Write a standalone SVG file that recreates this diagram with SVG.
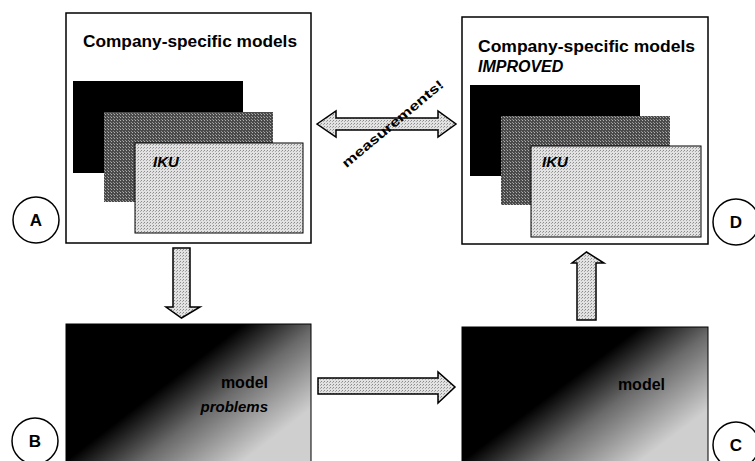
<svg xmlns="http://www.w3.org/2000/svg" width="755" height="461" viewBox="0 0 755 461">
<style>
.box{fill:#fff;stroke:#000;stroke-width:1.5}
.title{font-family:"Liberation Sans",Arial,sans-serif;font-weight:bold;font-size:16px;fill:#000}
.ital{font-family:"Liberation Sans",Arial,sans-serif;font-weight:bold;font-style:italic;fill:#000}
.meas{font-family:"Liberation Sans",Arial,sans-serif;font-weight:bold;font-size:13px;fill:#000;text-anchor:middle}
.lbl{font-family:"Liberation Sans",Arial,sans-serif;font-weight:bold;font-size:17px;fill:#000;text-anchor:middle}
.circ{fill:#fff;stroke:#000;stroke-width:1.5}
.arrow{fill:url(#dotLight);stroke:#000;stroke-width:1.5;stroke-linejoin:miter}
.light{fill:url(#dotLight);stroke:#000;stroke-width:1}
.mid{fill:url(#dotMid)}
.dark{fill:#000}
.grad{fill:url(#shade);stroke:#000;stroke-width:1}
</style>
<defs>
<pattern id="dotLight" width="3" height="3" patternUnits="userSpaceOnUse">
<rect width="3" height="3" fill="#e2e2e2"/>
<rect x="0" y="0" width="1" height="1" fill="#8a8a8a"/>
<rect x="2" y="1" width="1" height="1" fill="#a8a8a8"/>
</pattern>
<pattern id="dotMid" width="3" height="3" patternUnits="userSpaceOnUse">
<rect width="3" height="3" fill="#4a4a4a"/>
<rect x="0" y="0" width="1" height="1" fill="#b0b0b0"/>
<rect x="2" y="2" width="1" height="1" fill="#909090"/>
</pattern>
<linearGradient id="shade" x1="0.3" y1="0.15" x2="0.95" y2="0.65">
<stop offset="0.3" stop-color="#000"/>
<stop offset="0.6" stop-color="#6a6a6a"/>
<stop offset="1" stop-color="#cfcfcf"/>
</linearGradient>
</defs>

<g id="nodeA">
<rect class="box" x="66" y="13" width="245" height="230"/>
<text class="title" x="83" y="47" textLength="214" lengthAdjust="spacingAndGlyphs">Company-specific models</text>
<rect class="dark" x="73" y="81" width="170" height="92"/>
<rect class="mid" x="104" y="112" width="169" height="90"/>
<rect class="light" x="135" y="143" width="168" height="90"/>
<text class="ital" x="153" y="167" font-size="15">IKU</text>
</g>

<g id="nodeD">
<rect class="box" x="462" y="17" width="246" height="227"/>
<text class="title" x="478" y="52" textLength="217" lengthAdjust="spacingAndGlyphs">Company-specific models</text>
<text class="ital" x="478" y="72" font-size="16">IMPROVED</text>
<rect class="dark" x="470" y="85" width="170" height="91"/>
<rect class="mid" x="501" y="116" width="169" height="89"/>
<rect class="light" x="531" y="146" width="170" height="91"/>
<text class="ital" x="542" y="167" font-size="15">IKU</text>
</g>

<g id="nodeB">
<rect class="grad" x="66" y="324" width="245" height="145"/>
<text class="title" x="268" y="388" text-anchor="end" font-size="15" fill="#111">model</text>
<text class="ital" x="268" y="412" text-anchor="end" font-size="15" fill="#111">problems</text>
</g>

<g id="nodeC">
<rect class="grad" x="462" y="327" width="246" height="142"/>
<text class="title" x="665" y="390" text-anchor="end" font-size="15" fill="#111">model</text>
</g>

<g id="labelA"><circle class="circ" cx="36" cy="220" r="23"/><text class="lbl" x="36" y="226">A</text></g>
<g id="labelB"><circle class="circ" cx="35" cy="441" r="23"/><text class="lbl" x="35" y="447">B</text></g>
<g id="labelC"><circle class="circ" cx="736" cy="445" r="23"/><text class="lbl" x="736" y="451">C</text></g>
<g id="labelD"><circle class="circ" cx="736" cy="222" r="23"/><text class="lbl" x="736" y="228">D</text></g>

<g id="connectors">
<path class="arrow" d="M317,124 L336,111 L336,118 L438,118 L438,111 L456,124 L438,137 L438,130 L336,130 L336,137 Z"/>
<text class="meas" x="393" y="128" transform="rotate(-40 393 124)" textLength="128" lengthAdjust="spacingAndGlyphs">measurements!</text>
<path class="arrow" d="M173,248 L190,248 L190,307 L200,307 L181.5,318 L166,307 L173,307 Z"/>
<path class="arrow" d="M318,378 L438,378 L438,372 L455,387 L438,403 L438,394 L318,394 Z"/>
<path class="arrow" d="M577,320 L596,320 L596,263 L604,263 L586.5,252 L572,263 L577,263 Z"/>
</g>
</svg>
